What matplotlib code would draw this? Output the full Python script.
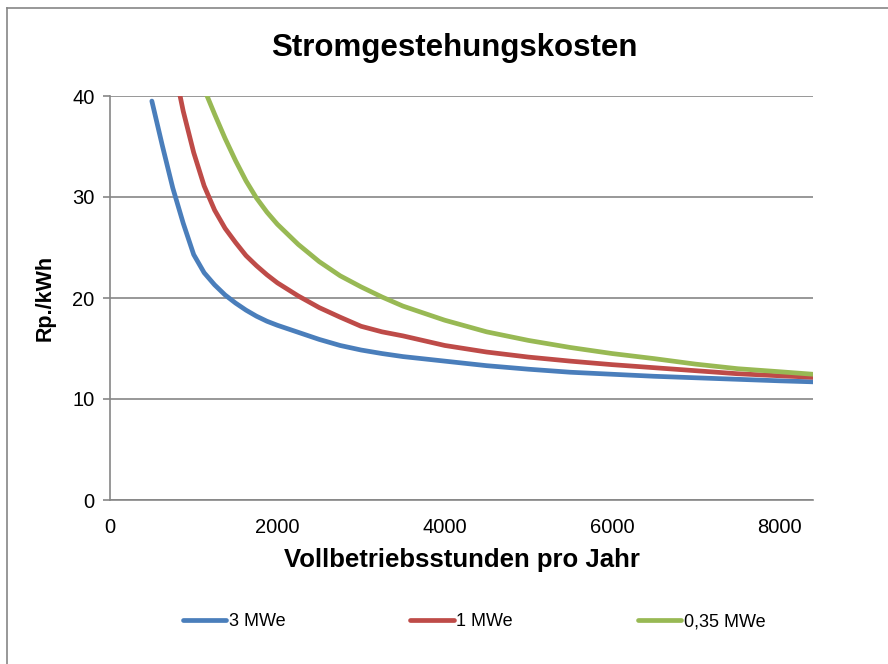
import numpy as np
from matplotlib import pyplot as plt
from matplotlib.lines import Line2D

plt.rcParams['font.family'] = ['Liberation Sans', 'DejaVu Sans']

# full load hours per year
hours = [500, 625, 750, 875, 1000, 1125, 1250, 1375, 1500, 1625, 1750, 1875,
         2000, 2250, 2500, 2750, 3000, 3250, 3500, 4000, 4500, 5000, 5500,
         6000, 6500, 7000, 7500, 8000, 8400]

# cost in Rp./kWh (values above 40 are cut off by the axis)
cost_3mw = [39.5, 35.1, 30.9, 27.4, 24.3, 22.5, 21.3, 20.3, 19.5, 18.8, 18.2,
            17.7, 17.3, 16.6, 15.9, 15.3, 14.85, 14.5, 14.2, 13.75, 13.3,
            12.95, 12.65, 12.45, 12.25, 12.1, 11.95, 11.8, 11.7]
cost_1mw = [60.0, 50.0, 43.5, 38.5, 34.4, 31.1, 28.7, 26.9, 25.5, 24.2, 23.2,
            22.3, 21.5, 20.2, 19.05, 18.1, 17.2, 16.65, 16.25, 15.3, 14.65,
            14.15, 13.75, 13.4, 13.1, 12.8, 12.5, 12.3, 12.15]
cost_035mw = [81.0, 66.0, 57.0, 50.0, 44.8, 40.7, 38.2, 35.8, 33.6, 31.6,
              29.9, 28.5, 27.3, 25.3, 23.6, 22.2, 21.1, 20.1, 19.2, 17.8,
              16.65, 15.8, 15.1, 14.5, 14.0, 13.45, 13.0, 12.7, 12.45]

labels = ['3 MWe', '1 MWe', '0,35 MWe']
colors = ['#4A7EBB', '#BE4B48', '#98B954']

fig = plt.figure(figsize=(8.88, 6.64), dpi=100)
ax = fig.add_axes([110 / 888, 164 / 664, 703 / 888, 404 / 664])

for ys, c in zip([cost_3mw, cost_1mw, cost_035mw], colors):
    ax.plot(hours, ys, color=c, linewidth=3.4, solid_capstyle='round',
            solid_joinstyle='round', zorder=3)

ax.set_xlim(0, 8400)
ax.set_ylim(0, 40)
ax.set_xticks([0, 2000, 4000, 6000, 8000])
ax.set_yticks([0, 10, 20, 30, 40])
ax.grid(axis='y', color='#868686', linewidth=1.2)
ax.set_axisbelow(True)
for s in ['top', 'right']:
    ax.spines[s].set_visible(False)
for s in ['left', 'bottom']:
    ax.spines[s].set_color('#868686')
    ax.spines[s].set_linewidth(1.2)
ax.tick_params(axis='y', length=5, width=1.2, color='#868686', labelsize=14.5, pad=6)
ax.tick_params(axis='x', length=0, labelsize=14.5, pad=13)

ax.set_xlabel('Vollbetriebsstunden pro Jahr', fontsize=18.5, fontweight='bold', labelpad=8)
ax.set_ylabel('Rp./kWh', fontsize=15.5, fontweight='bold', labelpad=12)
fig.text(454 / 888, 1 - 48 / 664, 'Stromgestehungskosten', fontsize=22.5,
         fontweight='bold', ha='center', va='center')

handles = [Line2D([0], [0], color=c, linewidth=3.4, solid_capstyle='round') for c in colors]
fig.legend(handles, labels, loc='center left', bbox_to_anchor=(183 / 888, 1 - 622 / 664),
           ncol=3, frameon=False, fontsize=13, handlelength=2.4, handletextpad=0.15,
           columnspacing=6.9, borderpad=0, borderaxespad=0)

# chart area border (top and left visible)
fig.add_artist(Line2D([7 / 888, 1], [1 - 8 / 664, 1 - 8 / 664], color='#868686',
                      linewidth=1.2, transform=fig.transFigure))
fig.add_artist(Line2D([7 / 888, 7 / 888], [0, 1 - 8 / 664], color='#868686',
                      linewidth=1.2, transform=fig.transFigure))

fig.savefig('out.png', dpi=100)
